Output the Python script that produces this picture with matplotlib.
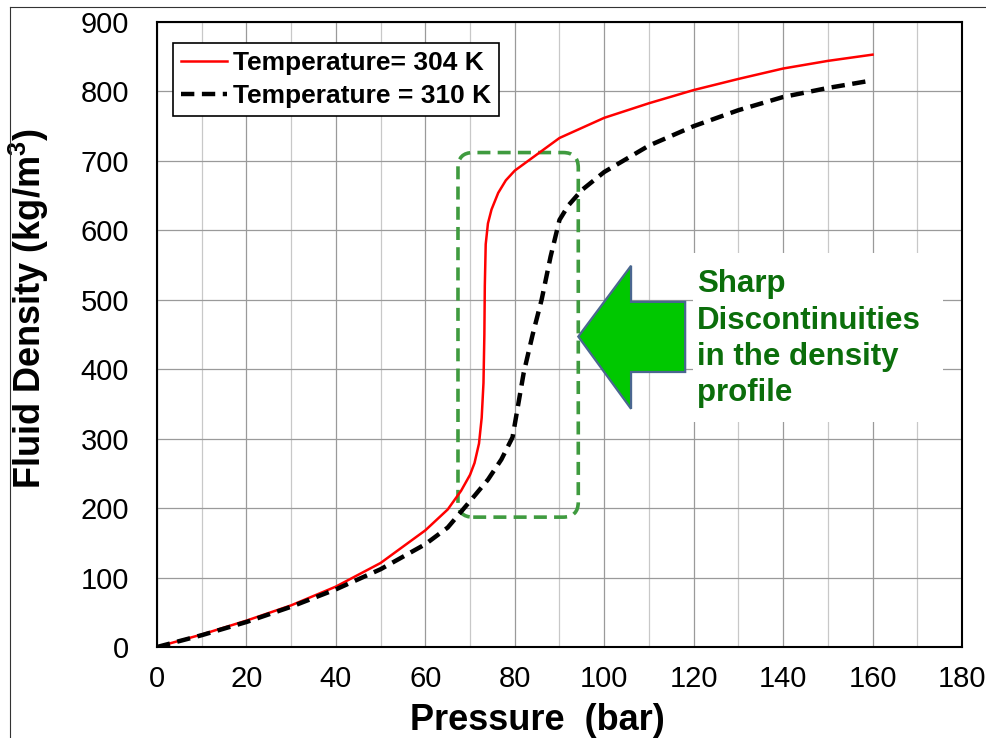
import matplotlib
matplotlib.use('Agg')
import matplotlib.pyplot as plt
from matplotlib.patches import FancyBboxPatch, Polygon, Rectangle
from matplotlib.lines import Line2D
from matplotlib.ticker import MultipleLocator

# dados
pressao_304 = [0, 10, 20, 30, 40, 50, 60, 65, 68, 70, 71, 72, 72.6, 73.0, 73.2, 73.3,
               73.5, 74.0, 74.8, 76.3, 78, 80, 90, 100, 110, 120, 130, 140, 150, 160]
densidade_304 = [0, 18, 38, 60, 87, 121, 168, 198, 225, 248, 265, 293, 330, 380, 450, 520,
                 580, 610, 630, 654, 672, 686, 733, 762, 783, 802, 818, 833, 844, 853]

pressao_310 = [0, 10, 20, 30, 40, 50, 60, 65, 70, 74, 77, 79.5, 82, 84, 86, 88, 90,
               92, 95, 100, 110, 120, 130, 140, 150, 160]
densidade_310 = [0, 17, 36, 58, 83, 112, 148, 172, 210, 241, 270, 302, 395, 450, 500, 562, 615,
                 636, 658, 684, 722, 750, 773, 792, 805, 816]

rotulo_304 = 'Temperature= 304 K'
rotulo_310 = 'Temperature = 310 K'
texto_nota = 'Sharp\nDiscontinuities\nin the density\nprofile'

plt.rcParams['font.family'] = ['Liberation Sans', 'DejaVu Sans']
plt.rcParams['mathtext.fontset'] = 'custom'
plt.rcParams['mathtext.rm'] = 'Liberation Sans'
plt.rcParams['mathtext.bf'] = 'Liberation Sans:bold'

fig = plt.figure(figsize=(9.87, 7.38), dpi=100)
ax = fig.add_axes([157/987, 1 - 647/738, 805/987, 625/738])

# moldura externa (screenshot)
fig.add_artist(Line2D([10/987, 10/987], [0, 1 - 7/738], color='#333333', lw=0.8))
fig.add_artist(Line2D([10/987, 1], [1 - 7/738, 1 - 7/738], color='#333333', lw=0.8))

# curvas
ax.plot(pressao_304, densidade_304, color='#ff0000', lw=1.8, label=rotulo_304, zorder=4)
ax.plot(pressao_310, densidade_310, color='black', lw=3.2, dashes=(3.0, 1.7),
        label=rotulo_310, zorder=4)

ax.set_xlim(0, 180)
ax.set_ylim(0, 900)
ax.xaxis.set_major_locator(MultipleLocator(20))
ax.xaxis.set_minor_locator(MultipleLocator(10))
ax.yaxis.set_major_locator(MultipleLocator(100))

ax.grid(True, which='major', axis='both', color='#9a9a9a', lw=0.9, zorder=0)
ax.grid(True, which='minor', axis='x', color='#c8c8c8', lw=0.9, zorder=0)
ax.set_axisbelow(True)

ax.tick_params(which='both', length=0, labelsize=21)
ax.tick_params(axis='y', pad=20)
ax.tick_params(axis='x', pad=13)

for s in ax.spines.values():
    s.set_linewidth(1.5)
    s.set_color('black')

ax.set_xlabel('Pressure  (bar)', fontsize=26, fontweight='bold')
ax.set_ylabel(r'Fluid Density (kg/m$^{\mathbf{3}}$)', fontsize=26, fontweight='bold')
ax.xaxis.label.set_va('center')
ax.yaxis.label.set_va('center')
ax.xaxis.set_label_coords(0.4727, -0.1168)
ax.yaxis.set_label_coords(-0.159, 0.542)

# caixa tracejada verde
caixa = FancyBboxPatch((67.3, 187), 94.2 - 67.3, 712 - 187,
                       boxstyle='round,pad=0,rounding_size=3.4', mutation_aspect=6.44,
                       fill=False, edgecolor='#3f9b3f', lw=2.6, linestyle=(0, (3.6, 2.0)),
                       zorder=3)
ax.add_patch(caixa)

# seta verde
seta = Polygon([(94.2, 447), (106.0, 549), (106.0, 497), (118.1, 497),
                (118.1, 396), (106.0, 396), (106.0, 343)],
               closed=True, facecolor='#00c800', edgecolor='#4a6690', lw=1.6, zorder=3)
ax.add_patch(seta)

# fundo branco da nota
ax.add_patch(Rectangle((119.9, 324), 175.8 - 119.9, 568 - 324, facecolor='white',
                       edgecolor='none', zorder=2))
ax.text(120.7, 444, texto_nota, color='#0b6e0b', fontsize=22.5, fontweight='bold',
        ha='left', va='center', linespacing=1.27, zorder=3)

leg = ax.legend(loc='upper left', bbox_to_anchor=(173/987, 1 - 43/738),
                bbox_transform=fig.transFigure, borderaxespad=0, fancybox=False,
                framealpha=1, edgecolor='black', handlelength=1.76, handletextpad=0.2,
                labelspacing=0.35, borderpad=0.3, prop={'size': 19, 'weight': 'bold'})
leg.get_frame().set_linewidth(1.2)

plt.savefig('out.png', dpi=100)
